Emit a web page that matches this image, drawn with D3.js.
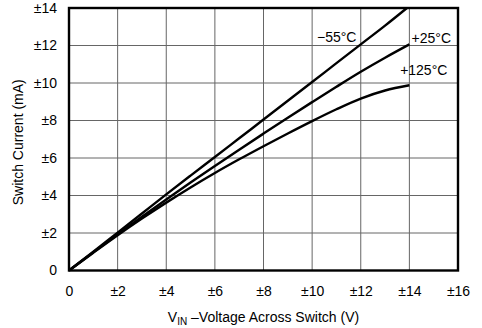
<!DOCTYPE html>
<html><head><meta charset="utf-8">
<script src="https://cdn.jsdelivr.net/npm/d3@7"></script>
<style>
html,body{margin:0;padding:0;background:#fff;}
text{font-family:"Liberation Sans",Arial,sans-serif;fill:#000;}
</style></head>
<body>
<svg id="c" width="482" height="328"></svg>
<script>
const voltage = [0,1,2,3,4,5,6,7,8,9,10,11,12,13,13.9];
const voltage14 = [0,1,2,3,4,5,6,7,8,9,10,11,12,13,14];
const iMinus55 = [0,1.0,2.02,3.04,4.06,5.06,6.05,7.05,8.05,9.05,10.05,11.06,12.06,13.06,14.0];
const iPlus25 = [0,0.97,1.93,2.87,3.79,4.69,5.57,6.44,7.3,8.15,8.98,9.8,10.6,11.35,12.06];
const iPlus125 = [0,0.95,1.88,2.77,3.62,4.43,5.2,5.93,6.63,7.31,7.97,8.6,9.17,9.6,9.88];
const xTicks = [0,2,4,6,8,10,12,14,16];
const xTickLabels = ["0","±2","±4","±6","±8","±10","±12","±14","±16"];
const yTicks = [0,2,4,6,8,10,12,14];
const yTickLabels = ["0","±2","±4","±6","±8","±10","±12","±14"];
const seriesNames = ["−55°C","+25°C","+125°C"];
const labelAt = [[10.2,12.2],[14.09,12.15],[13.62,10.43]];

const svg = d3.select("#c");
const L=69, R=458, T=8, B=270.5;
const x = d3.scaleLinear().domain([0,16]).range([L,R]);
const y = d3.scaleLinear().domain([0,14]).range([B,T]);
const FS = 14;

// grid
svg.append("g").selectAll("line").data(xTicks.slice(1,-1)).join("line")
  .attr("x1",d=>x(d)).attr("x2",d=>x(d)).attr("y1",T).attr("y2",B)
  .attr("stroke","#666").attr("stroke-width",1);
svg.append("g").selectAll("line").data(yTicks.slice(1,-1)).join("line")
  .attr("y1",d=>y(d)).attr("y2",d=>y(d)).attr("x1",L).attr("x2",R)
  .attr("stroke","#666").attr("stroke-width",1);

// axes labels via d3 axes
const xAxis = d3.axisBottom(x).tickValues(xTicks).tickFormat((d,i)=>xTickLabels[i]).tickSize(0).tickPadding(16);
const gx = svg.append("g").attr("transform",`translate(0,${B})`).call(xAxis);
gx.select(".domain").remove();
gx.selectAll("text").attr("font-size",FS).attr("font-family","Liberation Sans, Arial, sans-serif").attr("fill","#000");
const yAxis = d3.axisLeft(y).tickValues(yTicks).tickFormat((d,i)=>yTickLabels[i]).tickSize(0).tickPadding(12);
const gy = svg.append("g").attr("transform",`translate(${L},0)`).call(yAxis);
gy.select(".domain").remove();
gy.selectAll("text").attr("font-size",FS).attr("font-family","Liberation Sans, Arial, sans-serif").attr("fill","#000");

// curves
const line = d3.line().x(d=>x(d[0])).y(d=>y(d[1])).curve(d3.curveMonotoneX);
const data = [
  voltage.map((v,i)=>[v,iMinus55[i]]),
  voltage14.map((v,i)=>[v,iPlus25[i]]),
  voltage14.map((v,i)=>[v,iPlus125[i]])
];
svg.append("g").selectAll("path").data(data).join("path")
  .attr("d",line).attr("fill","none").attr("stroke","#000").attr("stroke-width",2.4);

// frame
svg.append("rect").attr("x",L).attr("y",T).attr("width",R-L).attr("height",B-T)
  .attr("fill","none").attr("stroke","#000").attr("stroke-width",2.4);

// series labels
svg.append("g").selectAll("text").data(seriesNames).join("text")
  .attr("x",(d,i)=>x(labelAt[i][0])).attr("y",(d,i)=>y(labelAt[i][1]))
  .attr("font-size",FS).text(d=>d);

// axis titles
svg.append("text").attr("transform",`translate(23,${(T+B)/2+3}) rotate(-90)`)
  .attr("text-anchor","middle").attr("font-size",FS).text("Switch Current (mA)");
const xt = svg.append("text").attr("x",(L+R)/2).attr("y",322).attr("text-anchor","middle").attr("font-size",FS);
xt.append("tspan").text("V");
xt.append("tspan").attr("font-size",10).attr("dy",3).text("IN");
xt.append("tspan").attr("dy",-3).text(" –Voltage Across Switch (V)");
</script>
</body></html>
